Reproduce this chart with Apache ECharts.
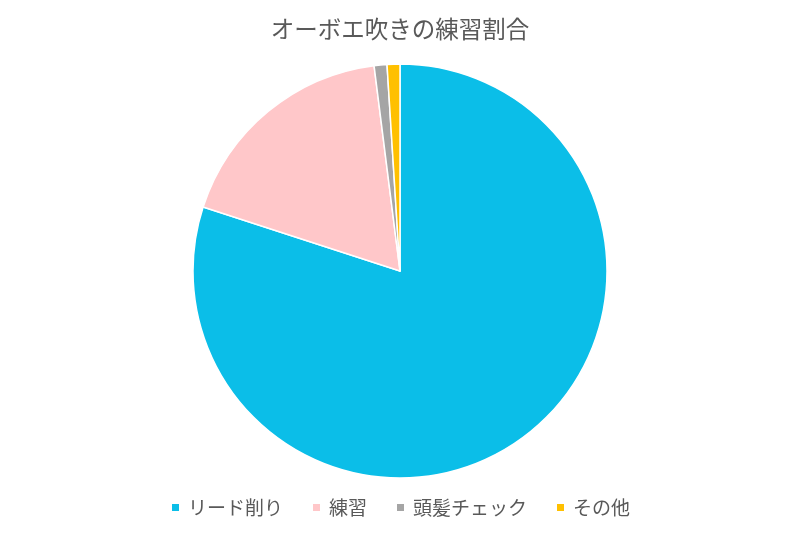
<!DOCTYPE html>
<html lang="ja">
<head>
    <meta charset="UTF-8">
    <script src="https://cdn.jsdelivr.net/npm/echarts@6/dist/echarts.min.js"></script>
    <title>オーボエ吹きの練習割合</title>
    <style>
        html, body { margin: 0; padding: 0; background: #fff; }
    </style>
</head>
<body>
<div id="chart" style="width: 800px;height: 534px"></div>
<script type="text/javascript">
    // データ
    var categories = ['リード削り', '練習', '頭髪チェック', 'その他'];
    var values = [80, 18, 1, 1];
    var colors = ['#0BBEE8', '#FFC7C9', '#A5A5A5', '#FFC000'];

    var chart = echarts.init(document.getElementById('chart'));
    var font = '"Noto Sans CJK JP", "Noto Sans", sans-serif';

    chart.setOption({
        animation: false,
        color: colors,
        title: {
            text: 'オーボエ吹きの練習割合',
            left: 'center',
            top: 12,
            textStyle: {
                fontFamily: font,
                fontSize: 23.5,
                fontWeight: 'normal',
                color: '#595959'
            }
        },
        legend: {
            data: categories,
            bottom: 12,
            left: 'center',
            icon: 'rect',
            itemWidth: 9,
            itemHeight: 9,
            itemGap: 28,
            textStyle: {
                fontFamily: font,
                fontSize: 19,
                color: '#595959',
                padding: [0, 0, 0, 3]
            }
        },
        series: [
            {
                type: 'pie',
                radius: 207,
                center: [400, 271],
                startAngle: 90,
                clockwise: true,
                label: { show: false },
                labelLine: { show: false },
                itemStyle: {
                    borderColor: '#fff',
                    borderWidth: 1.5
                },
                data: categories.map(function (c, i) {
                    return { name: c, value: values[i] };
                })
            }
        ]
    });
</script>
</body>
</html>
